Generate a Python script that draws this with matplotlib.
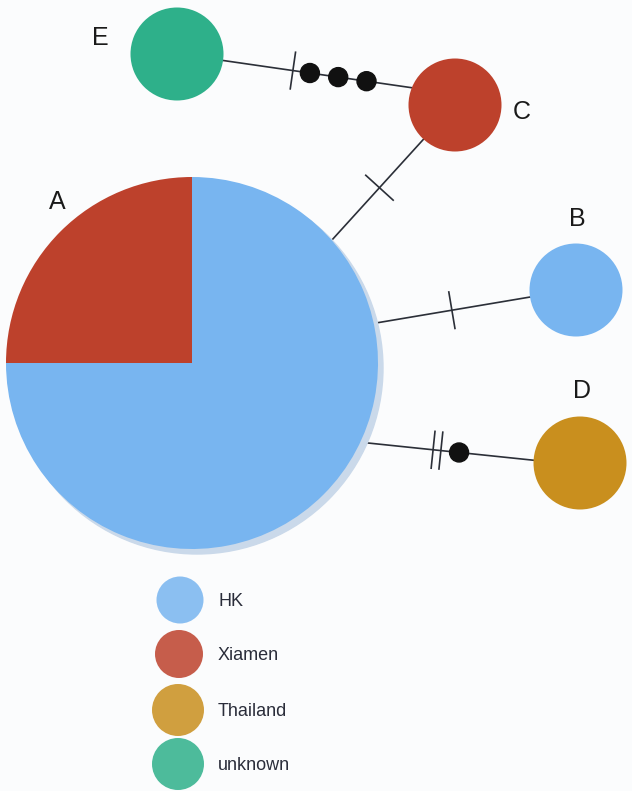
import numpy as np
import matplotlib
matplotlib.use("Agg")
import matplotlib.pyplot as plt
from matplotlib.patches import Circle, Wedge

plt.rcParams["font.family"] = ["Liberation Sans", "DejaVu Sans"]

# haplotype data: sample counts per region
haplotypes = ["A", "B", "C", "D", "E"]
regions = ["HK", "Xiamen", "Thailand", "unknown"]
hk_counts = [12, 1, 0, 0, 0]
xiamen_counts = [4, 0, 1, 0, 0]
thailand_counts = [0, 0, 0, 1, 0]
unknown_counts = [0, 0, 0, 0, 1]

# edges: (from, to), mutation ticks and median vectors drawn along them
edge_pairs = [("E", "C"), ("A", "C"), ("A", "B"), ("A", "D")]
edge_ticks = [1, 1, 1, 2]
edge_medians = [3, 0, 0, 1]

# layout (pixel space, y down)
node_x = [192, 576, 455, 580, 177]
node_y = [363, 290, 105, 463, 54]
label_x = [57, 577, 522, 582, 100]
label_y = [202, 219, 112, 391, 38]
base_r = 46.5
# anchor angles (deg, y down) at each end of an edge
edge_ang_from = [8, -41.3, -12.3, 25.2]
edge_ang_to = [201.8, 132.6, 171.3, 183.4]
tick_pos = [[0.37], [0.52], [0.50], [0.42, 0.465]]
median_pos = [[0.46, 0.61, 0.76], [], [], [0.57]]

colors = {"HK": "#78b5f0", "Xiamen": "#bd412c", "Thailand": "#c98f1e", "unknown": "#2eb08a"}
legend_x = [180, 179, 178, 178]
legend_y = [600, 654, 710, 764]
legend_r = [23.5, 24, 26, 26]

W, H = 632, 791
fig = plt.figure(figsize=(W / 100, H / 100), dpi=100, facecolor="#fbfcfd")
ax = fig.add_axes([0, 0, 1, 1])
ax.set_xlim(0, W)
ax.set_ylim(H, 0)
ax.set_aspect("equal")
ax.axis("off")

counts = np.array([hk_counts, xiamen_counts, thailand_counts, unknown_counts]).T
idx = {h: i for i, h in enumerate(haplotypes)}
radii = [base_r * np.sqrt(c.sum()) for c in counts]


def anchor(name, ang):
    i = idx[name]
    a = np.deg2rad(ang)
    return np.array([node_x[i] + radii[i] * np.cos(a), node_y[i] + radii[i] * np.sin(a)])


# edges with mutation ticks and median vectors
for k, (a, b) in enumerate(edge_pairs):
    p0 = anchor(a, edge_ang_from[k])
    p1 = anchor(b, edge_ang_to[k])
    ax.plot([p0[0], p1[0]], [p0[1], p1[1]], color="#2b2f38", lw=1.2, zorder=1)
    d = (p1 - p0) / np.linalg.norm(p1 - p0)
    perp = np.array([-d[1], d[0]])
    for t in tick_pos[k][:edge_ticks[k]]:
        c = p0 + t * (p1 - p0)
        e0, e1 = c - 18.5 * perp, c + 18.5 * perp
        ax.plot([e0[0], e1[0]], [e0[1], e1[1]], color="#2b2f38", lw=1.2, zorder=2)
    for t in median_pos[k][:edge_medians[k]]:
        c = p0 + t * (p1 - p0)
        ax.add_patch(Circle(c, 9.5, color="#111111", zorder=3))

# nodes as pies (Xiamen slice first, from the left going up)
for i, h in enumerate(haplotypes):
    x, y, r = node_x[i], node_y[i], radii[i]
    total = counts[i].sum()
    if h == "A":
        ax.add_patch(Circle((x + 5, y + 5), r, color="#cad9ea", zorder=2))
    start = 180.0
    for reg in ["Xiamen", "HK", "Thailand", "unknown"]:
        n = counts[i][regions.index(reg)]
        if n == 0:
            continue
        span = 360.0 * n / total
        ax.add_patch(Wedge((x, y), r, start, start + span, color=colors[reg], lw=0, zorder=4))
        start += span
    ax.text(label_x[i], label_y[i], h, fontsize=18, ha="center", va="center", color="#1a1a1a", zorder=5)

# legend
for j, reg in enumerate(regions):
    ax.add_patch(Circle((legend_x[j], legend_y[j]), legend_r[j], color=colors[reg], alpha=0.85, lw=0, zorder=4))
    ax.text(218, legend_y[j] + 2, reg, fontsize=13, ha="left", va="center", color="#2a2d3a", zorder=5)

fig.savefig("out.png", dpi=100, facecolor=fig.get_facecolor())
